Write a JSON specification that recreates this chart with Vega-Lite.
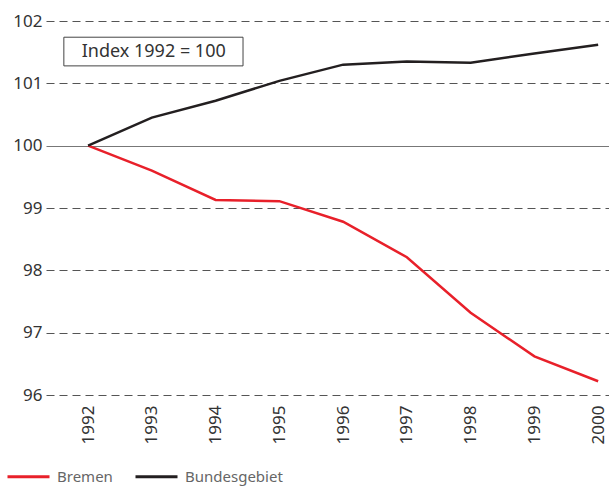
{
  "$schema": "https://vega.github.io/schema/vega-lite/v6.json",
  "autosize": "none",
  "width": 563,
  "height": 374,
  "padding": {"left": 46, "top": 21, "right": 0, "bottom": 91},
  "background": "white",
  "config": {
    "view": {"stroke": null},
    "font": "Noto Sans"
  },
  "layer": [
    {
      "data": {
        "values": [
          {"year": 1992, "region": "Bremen", "index": 100.0},
          {"year": 1993, "region": "Bremen", "index": 99.6},
          {"year": 1994, "region": "Bremen", "index": 99.13},
          {"year": 1995, "region": "Bremen", "index": 99.11},
          {"year": 1996, "region": "Bremen", "index": 98.78},
          {"year": 1997, "region": "Bremen", "index": 98.21},
          {"year": 1998, "region": "Bremen", "index": 97.32},
          {"year": 1999, "region": "Bremen", "index": 96.62},
          {"year": 2000, "region": "Bremen", "index": 96.22},
          {"year": 1992, "region": "Bundesgebiet", "index": 100.0},
          {"year": 1993, "region": "Bundesgebiet", "index": 100.45},
          {"year": 1994, "region": "Bundesgebiet", "index": 100.72},
          {"year": 1995, "region": "Bundesgebiet", "index": 101.04},
          {"year": 1996, "region": "Bundesgebiet", "index": 101.30},
          {"year": 1997, "region": "Bundesgebiet", "index": 101.35},
          {"year": 1998, "region": "Bundesgebiet", "index": 101.33},
          {"year": 1999, "region": "Bundesgebiet", "index": 101.48},
          {"year": 2000, "region": "Bundesgebiet", "index": 101.62}
        ]
      },
      "mark": {"type": "line", "strokeWidth": 2.5, "strokeJoin": "miter"},
      "encoding": {
        "x": {
          "field": "year",
          "type": "quantitative",
          "scale": {"domain": [1991.34, 2000.17], "nice": false, "zero": false},
          "axis": {
            "title": null,
            "values": [1992, 1993, 1994, 1995, 1996, 1997, 1998, 1999, 2000],
            "format": "d",
            "labelAngle": -90,
            "labelAlign": "right",
            "labelBaseline": "middle",
            "labelFontSize": 17,
            "labelColor": "#333333",
            "labelPadding": 10,
            "ticks": false,
            "domain": false,
            "grid": false,
            "labelFlush": false,
            "labelOverlap": false
          }
        },
        "y": {
          "field": "index",
          "type": "quantitative",
          "scale": {"domain": [96, 102], "nice": false, "zero": false},
          "axis": {
            "title": null,
            "values": [96, 97, 98, 99, 100, 101, 102],
            "format": "d",
            "labelFontSize": 17,
            "labelColor": "#333333",
            "labelPadding": 4,
            "ticks": false,
            "domain": false,
            "grid": true,
            "gridColor": {"condition": {"test": "datum.value === 100", "value": "#777777"}, "value": "#555555"},
            "gridDash": {"condition": {"test": "datum.value === 100", "value": []}, "value": [8, 5]},
            "gridWidth": 1.2
          }
        },
        "color": {
          "field": "region",
          "type": "nominal",
          "scale": {"domain": ["Bremen", "Bundesgebiet"], "range": ["#e8202a", "#231f20"]},
          "legend": {
            "title": null,
            "orient": "none",
            "direction": "horizontal",
            "legendX": -40,
            "legendY": 433,
            "symbolType": "stroke",
            "symbolSize": 1764,
            "symbolStrokeWidth": 3,
            "labelFontSize": 15,
            "labelColor": "#666666",
            "labelOffset": 6,
            "columnPadding": 16
          }
        }
      }
    },
    {
      "data": {"values": [{"label": "Index 1992 = 100"}]},
      "mark": {"type": "rect", "fill": "white", "stroke": "#444444", "strokeWidth": 1},
      "encoding": {
        "x": {"datum": 1991.62},
        "x2": {"datum": 1994.43},
        "y": {"datum": 101.74},
        "y2": {"datum": 101.28}
      }
    },
    {
      "data": {"values": [{"label": "Index 1992 = 100"}]},
      "mark": {"type": "text", "fontSize": 18, "color": "#333333", "align": "center", "baseline": "middle"},
      "encoding": {
        "x": {"datum": 1993.03},
        "y": {"datum": 101.51},
        "text": {"field": "label"}
      }
    }
  ]
}
